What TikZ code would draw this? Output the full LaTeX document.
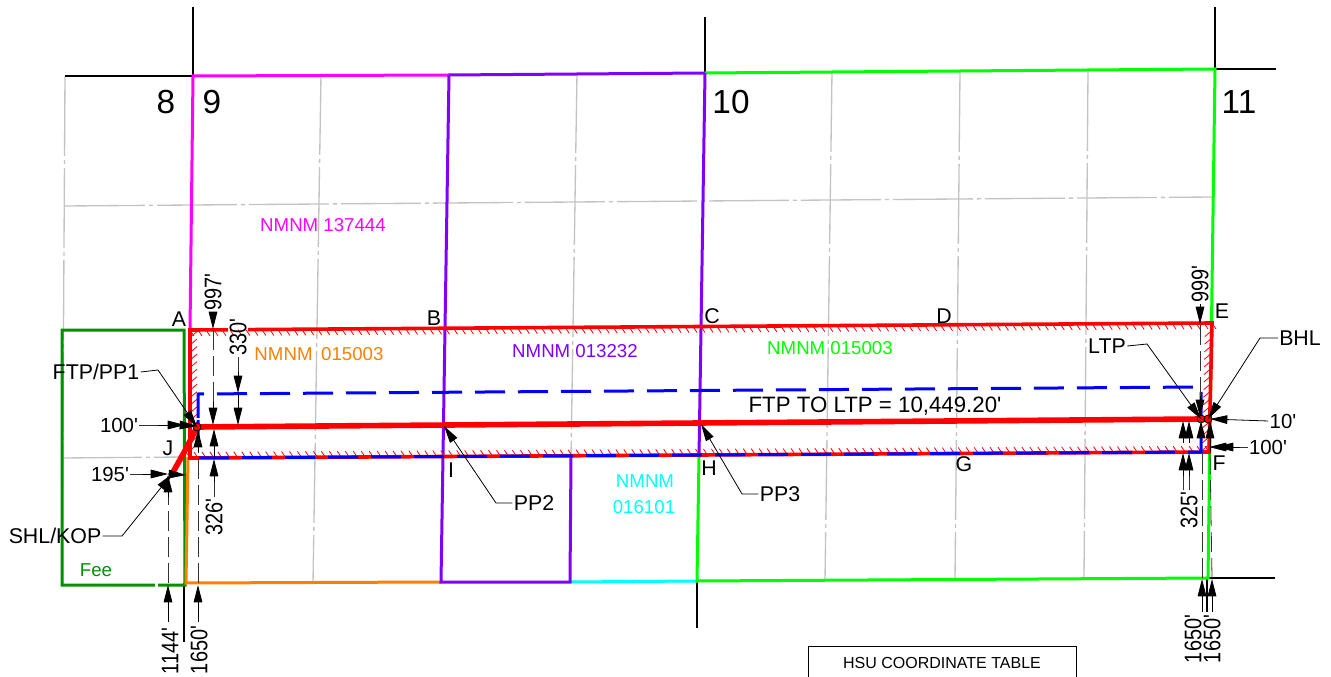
\documentclass[tikz,border=0pt]{standalone}
\usepackage{fontspec}
\newfontfamily\drawfont{Liberation Sans}
\usetikzlibrary{arrows.meta,calc}

\definecolor{leasemagenta}{RGB}{255,0,255}
\definecolor{leasepurple}{RGB}{127,0,255}
\definecolor{leasegreen}{RGB}{0,255,0}
\definecolor{leasecyan}{RGB}{0,255,255}
\definecolor{leaseorange}{RGB}{255,127,0}
\definecolor{feegreen}{RGB}{0,145,0}
\definecolor{gridgray}{RGB}{195,195,195}

\newcommand{\narrowed}[1]{\scalebox{0.83}[1]{#1}}

\tikzset{
  every picture/.style={line width=0.75pt},
  gridline/.style={color=gridgray,line width=1pt,dash pattern=on 60pt off 3pt on 3pt off 3pt},
  secline/.style={line width=1.5pt,black},
  leaseline/.style={line width=2.25pt},
  redline/.style={color=red,line width=2.7pt},
  blueline/.style={color=blue,line width=2.25pt,dash pattern=on 22.5pt off 9.75pt},
  wellline/.style={color=red,line width=4.2pt},
  hatchtick/.style={color=red,line width=0.6pt},
  dimline/.style={line width=0.6pt,black!80,dash pattern=on 15pt off 4.5pt},
  leader/.style={line width=0.6pt,black},
  tipped/.style={line width=0.6pt,black,-{Triangle[length=13pt,width=6.5pt]}},
  lbl/.style={inner sep=0.75pt,font=\drawfont\fontsize{16}{18}\selectfont},
  dimlbl/.style={inner sep=0.75pt,font=\drawfont\fontsize{15.3}{18}\selectfont},
  dimrot/.style={inner sep=0.75pt,rotate=90,font=\drawfont\fontsize{18}{20}\selectfont},
  seclbl/.style={inner sep=0.75pt,font=\drawfont\fontsize{25}{28}\selectfont},
  lease/.style={inner sep=0.75pt,font=\drawfont\fontsize{14}{16}\selectfont},
}

\begin{document}
\begin{tikzpicture}[x=0.75pt,y=0.75pt,yscale=-1,xscale=1]
    \useasboundingbox (0,0) rectangle (1331,677);

    %Lease corners
    \coordinate (cA) at (190,330);
    \coordinate (cE) at (1212,323);
    \coordinate (cF) at (1209,452);
    \coordinate (cJ) at (190,458);
    \coordinate (ftp) at (197,427);
    \coordinate (ltp) at (1201,419);
    \coordinate (bhl) at (1208,419);
    \coordinate (shl) at (172,474);

    %Grid lines
    \draw [gridline] (65,206) -- (1213,197);
    \draw [gridline] (65,76) -- (62,585);
    \draw [gridline] (62,458) -- (185,457);
    \draw [gridline] (321,75) -- (313,583);
    \draw [gridline] (577,73) -- (571,457);
    \draw [gridline] (832,72) -- (825,580);
    \draw [gridline] (960,72) -- (955,579);
    \draw [gridline] (1088,71) -- (1084,578);

    %Section lines
    \draw [secline] (193,7) -- (193,76);
    \draw [secline] (65,76) -- (193,76);
    \draw [secline] (705,17) -- (705,73);
    \draw [secline] (1215,7) -- (1215,69) -- (1276,69);
    \draw [secline] (184,583) -- (184,642);
    \draw [secline] (697,581) -- (697,628);
    \draw [secline] (1208,578) -- (1275,578);
    \draw [secline] (1207,578) -- (1207,612);

    %Fee tract
    \draw [leaseline,feegreen] (158,585) -- (185,585) -- (184,330) -- (62,330) -- (62,585) -- (155,585);

    %Lease lines
    \draw [leaseline,leaseorange] (188,457) -- (186,583) -- (441,582);
    \draw [leaseline,leasecyan] (570,582) -- (697,581);
    \draw [leaseline,leasemagenta] (190,330) -- (193,76) -- (449,75);
    \draw [leaseline,leasepurple] (449,75) -- (705,73);
    \draw [leaseline,leasegreen] (705,73) -- (1215,69) -- (1208,578) -- (697,581) -- (699,457);
    \draw [leaseline,leasepurple] (449,75) -- (441,582) -- (570,582) -- (571,457);
    \draw [leaseline,leasepurple] (705,73) -- (699,457);

    %Hatching
    \foreach \i in {0,...,128}
      \draw [hatchtick] ($(cA)!\i/128!(cE)$) -- ++(4,6);
    \foreach \i in {0,...,128}
      \draw [hatchtick] ($(cJ)!\i/128!(cF)$) -- ++(-4,-6);
    \foreach \i in {1,...,16}
      \draw [hatchtick] ($(cA)!\i/17!(cJ)$) -- ++(7,-6);
    \foreach \i in {1,...,16}
      \draw [hatchtick] ($(cE)!\i/17!(cF)$) -- ++(-7,6);

    %Hardline box
    \draw [redline] (228,329.8) -- (cA) -- (cJ) -- (cF) -- (cE) -- (248,329.6);
    \draw [blueline] (198,418) -- (198,394) -- (1201,387) -- (1201,452) -- (198,458) -- (198,420);

    %Well path
    \draw [wellline] (shl) -- (187,447) -- (ftp) -- (ltp) -- (bhl);
    \draw [leader] (ftp) circle (4);
    \draw [leader] (ltp) circle (4);
    \draw [leader] (bhl) circle (4);

    % Section numbers
    \node [seclbl] (sec8) at (166,102) {8};
    \node [seclbl] (sec9) at (212,102) {9};
    \node [seclbl] (sec10) at (731,102) {10};
    \node [seclbl] (sec11) at (1239,102) {11};

    % Lease names
    \node [lease,leasemagenta] (nm137444) at (323,225) {NMNM 137444};
    \node [lease,leaseorange] (nm015003a) at (319,354) {NMNM\hspace{6.5pt}015003};
    \node [lease,leasepurple] (nm013232) at (575,351) {NMNM 013232};
    \node [lease,leasegreen] (nm015003b) at (830,348) {NMNM 015003};
    \node [lease,leasecyan] (nm016101a) at (645,481) {NMNM};
    \node [lease,leasecyan] (nm016101b) at (644,507) {016101};
    \node [lease,feegreen] (fee) at (96,570) {Fee};

    % Corner letters
    \node [lbl] (ptA) at (179,319) {A};
    \node [lbl] (ptB) at (434,318) {B};
    \node [lbl] (ptC) at (712,316) {C};
    \node [lbl] (ptD) at (944,316) {D};
    \node [lbl] (ptE) at (1222,311) {E};
    \node [lbl] (ptF) at (1219,463) {F};
    \node [lbl] (ptG) at (964,464) {G};
    \node [lbl] (ptH) at (709,468) {H};
    \node [lbl] (ptI) at (451,470) {I};
    \node [lbl] (ptJ) at (168,448) {J};

    \node [lbl,font=\drawfont\fontsize{16.7}{18}\selectfont] (lateral) at (875,406) {FTP TO LTP = 10,449.20'};

    % Callouts
    \node [lbl] (ftplbl) at (96,372) {FTP/PP1};
    \draw [tipped] (ftplbl.east) -- (158,370) -- (ftp);
    \node [lbl] (shllbl) at (55,536) {SHL/KOP};
    \draw [tipped] (shllbl.east) -- (122,536) -- (shl);
    \node [lbl] (pp2lbl) at (534,503) {PP2};
    \coordinate (pp2) at (444,426);
    \draw [tipped] (pp2lbl.west) -- (496,503) -- (pp2);
    \node [lbl] (pp3lbl) at (780,494) {PP3};
    \coordinate (pp3) at (701,424);
    \draw [tipped] (pp3lbl.west) -- (742,494) -- (pp3);
    \node [lbl] (ltplbl) at (1107,346) {LTP};
    \draw [tipped] (ltplbl.east) -- (1147,344) -- (ltp);
    \node [lbl] (bhllbl) at (1300,338) {BHL};
    \draw [tipped] (bhllbl.west) -- (1260,338) -- (bhl);

    % Horizontal dimensions
    \node [dimlbl] (dim100a) at (119,425) {100'};
    \draw [dimline] (dim100a.east) -- (168,425);
    \draw [tipped] (158,425) -- (185,425);
    \draw [tipped] (180,425) -- (197,426);
    \node [dimlbl] (dim195) at (110,474) {195'};
    \draw [dimline] (dim195.east) -- (150,474);
    \draw [tipped] (142,474) -- (168,474);
    \draw [tipped] (168,474) -- (186,475);
    \node [dimlbl] (dim10) at (1283,421) {10'};
    \draw [tipped] (dim10.west) -- (1210,419);
    \node [dimlbl] (dim100b) at (1268,447) {100'};
    \draw [dimline] (dim100b.west) -- (1232,447);
    \draw [tipped] (1240,447) -- (1216,447);
    \draw [tipped] (1232,447) -- (1209,447);

    % Vertical dimensions, left
    \node [dimrot] (dim997) at (213,292) {\narrowed{997'}};
    \draw [tipped] (dim997.west) -- (213,329);
    \draw [dimline] (213,330) -- (213,405);
    \draw [tipped] (213,402) -- (213,425);
    \node [dimrot] (dim330) at (238,337) {\narrowed{330'}};
    \draw [dimline] (dim330.west) -- (238,375);
    \draw [tipped] (238,372) -- (238,393);
    \draw [tipped] (238,394) -- (238,425);
    \node [dimrot] (dim326) at (214,517) {\narrowed{326'}};
    \draw [dimline] (dim326.east) -- (214,480);
    \draw [tipped] (214,482) -- (214,459);
    \draw [tipped] (214,457) -- (214,429);
    \node [dimrot] (dim1144) at (170,651) {\narrowed{1144'}};
    \draw [tipped] (168,622) -- (168,585);
    \draw [dimline] (168,583) -- (168,490);
    \draw [tipped] (168,497) -- (168,475);
    \node [dimrot] (dim1650a) at (199,650) {\narrowed{1650'}};
    \draw [tipped] (198,622) -- (198,585);
    \draw [dimline] (198,583) -- (198,445);
    \draw [tipped] (198,452) -- (198,430);

    % Vertical dimensions, right
    \node [dimrot] (dim999) at (1200,284) {\narrowed{999'}};
    \draw [tipped] (dim999.west) -- (1200,324);
    \draw [dimline] (1200,325) -- (1200,400);
    \draw [tipped] (1200,396) -- (1200,417);
    \node [dimrot] (dim325) at (1189,510) {\narrowed{325'}};
    \draw [dimline] (1183,490) -- (1183,470);
    \draw [dimline] (1189,490) -- (1189,470);
    \draw [tipped] (1183,476) -- (1183,453);
    \draw [tipped] (1189,476) -- (1189,453);
    \draw [tipped] (1183,443) -- (1183,421);
    \draw [tipped] (1189,443) -- (1189,421);
    \draw [tipped] (1201,452) -- (1201,421);
    \draw [tipped] (1210,452) -- (1210,421);
    \node [dimrot] (dim1650b) at (1193,639) {\narrowed{1650'}};
    \draw [tipped] (1202,612) -- (1202,579);
    \draw [dimline] (1202,578) -- (1202,452);
    \node [dimrot] (dim1650c) at (1212,639) {\narrowed{1650'}};
    \draw [tipped] (1212,612) -- (1212,579);
    \draw [dimline] (1212,578) -- (1210,452);

    % Table title
    \draw [line width=0.75pt] (808,677) -- (808,646) -- (1076,646) -- (1076,677);
    \node [inner sep=0.75pt,font=\drawfont\fontsize{12}{14}\selectfont] (tabletitle) at (942,663) {HSU COORDINATE TABLE};
\end{tikzpicture}
\end{document}
